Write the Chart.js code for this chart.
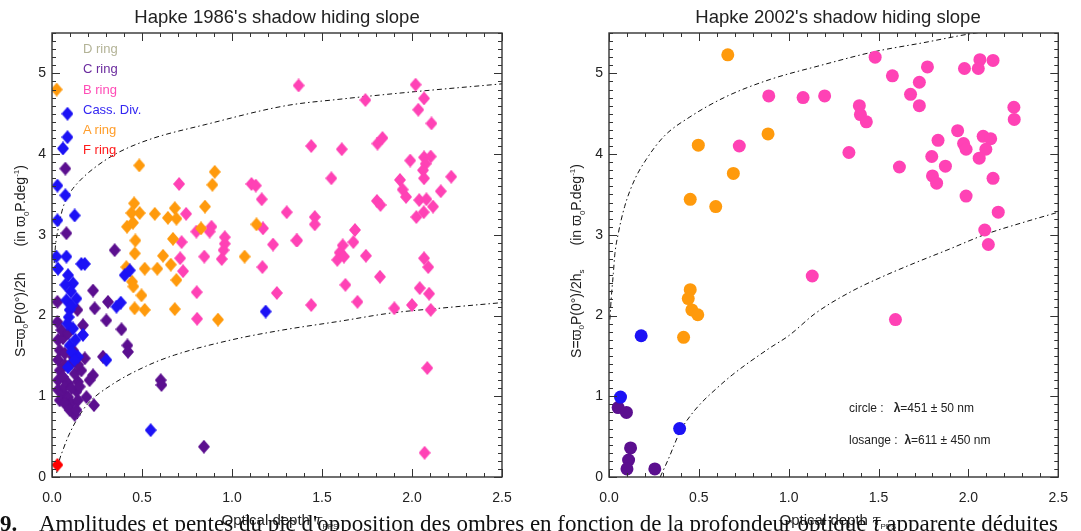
<!DOCTYPE html>
<html>
<head>
<meta charset="utf-8">
<script src="https://cdn.jsdelivr.net/npm/chart.js@4.4.1/dist/chart.umd.min.js"></script>
<style>
  body { margin: 0; width: 1081px; height: 531px; overflow: hidden; background: #fff;
         font-family: "Liberation Sans", Arial, sans-serif; color: #222; position: relative; }
  .panel { position: absolute; top: 0; }
  .title { position: absolute; top: 6px; font-size: 18.5px; white-space: nowrap; text-align: center; }
  .ytitle { position: absolute; width: 320px; height: 18px; line-height: 18px; text-align: center;
            font-size: 14px; white-space: nowrap; transform: rotate(-90deg); }
  .ytitle sub, .ytitle sup { font-size: 8px; }
  .xtitle { position: absolute; top: 511px; width: 240px; text-align: center; font-size: 15px; white-space: nowrap; }
  .xtitle i { font-family: "DejaVu Serif", serif; }
  .xtitle sub { font-size: 8px; }
  .legend { position: absolute; left: 83px; font-size: 13px; white-space: nowrap; }
  .note { position: absolute; left: 849px; font-size: 12px; white-space: nowrap; }
  .caption { position: absolute; left: 0; top: 511px; font-family: "Liberation Serif", serif;
             font-size: 23px; white-space: nowrap; color: #111; }
</style>
</head>
<body>
<div class="panel" style="left:0"><canvas id="left" width="540" height="531"></canvas></div>
<div class="panel" style="left:540px"><canvas id="right" width="541" height="531"></canvas></div>

<div class="title" style="left:127px;width:300px">Hapke 1986's shadow hiding slope</div>
<div class="title" style="left:688px;width:300px">Hapke 2002's shadow hiding slope</div>

<div class="ytitle" style="left:-143px;top:252px">S=ϖ<sub>0</sub>P(0°)/2h<span style="margin-left:26px">(in ϖ<sub>0</sub>P.deg<sup>-1</sup>)</span></div>
<div class="ytitle" style="left:413px;top:252px">S=ϖ<sub>0</sub>P(0°)/2h<sub>s</sub><span style="margin-left:24px">(in ϖ<sub>0</sub>P.deg<sup>-1</sup>)</span></div>

<div class="xtitle" style="left:160px">Optical depth <i>τ</i><sub>PPS</sub></div>
<div class="xtitle" style="left:718px">Optical depth <i>τ</i><sub>PPS</sub></div>

<div class="legend" style="top:41px;color:#b3b396">D ring</div>
<div class="legend" style="top:61px;color:#6a2a9e">C ring</div>
<div class="legend" style="top:82px;color:#ff4cb6">B ring</div>
<div class="legend" style="top:102px;color:#3326f2">Cass. Div.</div>
<div class="legend" style="top:122px;color:#ff9d2a">A ring</div>
<div class="legend" style="top:142px;color:#ff1a1a">F ring</div>

<div class="note" style="top:401px">circle :&nbsp;&nbsp; <b>λ</b>=451 ± 50 nm</div>
<div class="note" style="top:433px">losange :&nbsp; <b>λ</b>=611 ± 450 nm</div>

<div class="caption"><b>9.</b>&nbsp;&nbsp;&nbsp; Amplitudes et pentes du pic d'opposition des ombres en fonction de la profondeur optique <i>τ</i> apparente déduites</div>

<script>
// ===== colours =====
const purple = '#5b0f8f';
const pink = '#ff42b5';
const blue = '#1c12f5';
const orange = '#ff9a0c';
const red = '#ff0000';

// ===== Hapke 1986 (diamonds) : [tau, S] =====
let c1986 = [[0.074,3.82],[0.080,3.02],[0.348,2.81],[0.030,2.17],[0.030,1.92],[0.228,2.31],[0.237,2.09],
  [0.311,2.17],[0.302,1.94],[0.141,2.07],[0.172,1.88],[0.386,1.83],[0.419,1.63],[0.422,1.55],[0.283,1.49],
  [0.228,1.26],[0.209,1.20],[0.604,1.20],[0.608,1.14],[0.191,0.99],[0.233,0.89],[0.126,0.77],[0.844,0.375],
  [0.034,1.70],[0.061,1.72],[0.043,1.57],[0.071,1.53],[0.034,1.45],[0.071,1.39],[0.043,1.32],[0.034,1.20],
  [0.061,1.24],[0.089,1.16],[0.034,1.08],[0.061,1.04],[0.043,0.95],[0.089,0.99],[0.108,0.91],[0.136,1.06],
  [0.144,1.18],[0.126,1.28],[0.163,1.32],[0.182,1.47],[0.117,1.57],[0.117,1.49],[0.071,0.91],[0.098,0.83],
  [0.144,0.95],[0.136,0.83],[0.071,1.12],[0.108,1.10],[0.154,1.12],[0.108,1.41],[0.144,1.39],[0.052,1.82],
  [0.089,1.78]];
let b1986 = [[0.706,3.63],[0.745,3.26],[0.802,3.04],[0.886,3.10],[0.876,3.04],[0.96,2.97],[0.96,2.89],
  [0.953,2.81],[0.943,2.70],[0.846,2.73],[0.72,2.91],[0.712,2.71],[0.728,2.55],[1.108,3.63],[1.132,3.61],
  [1.165,3.44],[1.172,3.08],[1.228,2.88],[1.169,2.60],[1.304,3.28],[1.358,2.93],[0.804,2.29],[1.249,2.28],
  [0.806,1.96],[1.370,4.85],[1.741,4.67],[2.02,4.86],[2.067,4.69],[2.035,4.55],[2.108,4.38],[1.44,4.10],
  [1.61,4.06],[1.808,4.13],[1.836,4.20],[1.99,3.92],[2.067,3.96],[2.104,3.97],[2.076,3.88],[2.061,3.80],
  [2.067,3.70],[2.218,3.72],[1.552,3.70],[1.933,3.68],[1.948,3.56],[1.967,3.47],[2.160,3.54],[1.805,3.42],
  [1.825,3.37],[2.04,3.43],[2.08,3.44],[2.117,3.35],[2.065,3.28],[2.024,3.22],[1.46,3.22],[1.46,3.13],
  [1.362,2.93],[1.683,3.06],[1.674,2.91],[1.615,2.87],[1.598,2.78],[1.585,2.69],[1.622,2.73],[1.744,2.74],
  [2.067,2.71],[2.09,2.60],[1.822,2.48],[1.63,2.38],[2.043,2.34],[2.095,2.27],[1.44,2.13],[1.697,2.17],
  [1.902,2.09],[2.0,2.13],[2.104,2.07],[2.085,1.35],[2.07,0.30]];
let cd1986 = [[0.086,4.50],[0.086,4.21],[0.061,4.07],[0.030,3.61],[0.074,3.49],[0.126,3.24],[0.030,3.18],
  [0.024,2.73],[0.08,2.73],[0.163,2.64],[0.182,2.64],[0.033,2.58],[0.089,2.50],[0.117,2.40],[0.074,2.38],
  [0.136,2.21],[0.08,2.19],[0.098,2.07],[0.093,1.98],[0.117,1.84],[0.172,1.76],[0.098,1.63],[0.144,1.49],
  [0.089,1.36],[0.302,1.45],[0.404,2.50],[0.432,2.56],[0.358,2.11],[0.382,2.16],[1.187,2.05],[0.548,0.58],
  [0.105,2.30],[0.11,2.12],[0.085,1.90],[0.13,1.70],[0.11,1.55],[0.125,1.45]];
let a1986 = [[0.026,4.80],[0.485,3.86],[0.904,3.78],[0.891,3.62],[0.850,3.35],[0.456,3.39],[0.441,3.27],
  [0.487,3.27],[0.417,3.10],[0.45,3.15],[0.571,3.26],[0.644,3.21],[0.682,3.33],[0.691,3.20],[0.828,3.08],
  [1.136,3.13],[0.463,2.93],[0.672,2.95],[0.46,2.77],[0.617,2.74],[1.07,2.73],[0.413,2.60],[0.515,2.58],
  [0.585,2.58],[0.66,2.63],[0.691,2.44],[0.445,2.42],[0.452,2.36],[0.497,2.25],[0.459,2.09],[0.515,2.07],
  [0.682,2.08],[0.922,1.95]];
let f1986 = [[0.030,0.15]];

// dash-dot envelopes
let upper1986 = [[0.012,2.65],[0.02,2.88],[0.035,3.08],[0.06,3.33],[0.1,3.52],[0.15,3.66],[0.23,3.82],
  [0.36,4.01],[0.54,4.18],[0.86,4.37],[1.3,4.6],[1.6,4.68],[2.0,4.77],[2.5,4.87]];
let lower1986 = [[0.026,0.05],[0.04,0.2],[0.06,0.33],[0.09,0.5],[0.135,0.70],[0.2,0.91],[0.33,1.14],
  [0.52,1.37],[0.68,1.51],[1.0,1.70],[1.28,1.82],[1.6,1.93],[1.88,2.03],[2.2,2.10],[2.5,2.16]];

// ===== Hapke 2002 (circles) =====
let c2002 = [[0.051,0.86],[0.097,0.80],[0.120,0.36],[0.109,0.21],[0.100,0.10],[0.255,0.10]];
let b2002 = [[0.889,4.72],[0.725,4.10],[1.080,4.70],[1.200,4.72],[1.131,2.49],[1.481,5.20],[1.577,4.97],
  [1.772,5.08],[1.727,4.89],[1.678,4.74],[1.727,4.60],[1.393,4.60],[1.399,4.49],[1.432,4.40],[1.335,4.02],
  [1.616,3.84],[1.978,5.06],[2.064,5.17],[2.055,5.06],[2.137,5.16],[2.253,4.58],[2.255,4.43],[1.940,4.29],
  [1.973,4.13],[1.987,4.06],[1.831,4.17],[1.796,3.97],[1.872,3.85],[1.800,3.73],[1.823,3.64],[1.987,3.48],
  [2.082,4.22],[2.124,4.19],[2.097,4.06],[2.060,3.95],[2.137,3.70],[2.166,3.28],[2.091,3.06],[2.111,2.88],
  [1.594,1.95]];
let cd2002 = [[0.179,1.75],[0.064,0.99],[0.393,0.60]];
let a2002 = [[0.661,5.23],[0.497,4.11],[0.885,4.25],[0.692,3.76],[0.452,3.44],[0.594,3.35],[0.452,2.32],
  [0.441,2.21],[0.461,2.07],[0.494,2.01],[0.415,1.73]];

let upper2002 = [[0.005,1.95],[0.012,2.2],[0.024,2.52],[0.033,2.77],[0.051,3.01],[0.087,3.35],[0.142,3.68],
  [0.206,3.93],[0.306,4.22],[0.45,4.46],[0.65,4.71],[0.89,4.92],[1.18,5.10],[1.48,5.27],[1.75,5.38],
  [2.01,5.49],[2.1,5.52]];
let lower2002 = [[0.285,0.0],[0.33,0.22],[0.397,0.57],[0.45,0.75],[0.506,0.90],[0.6,1.1],[0.689,1.27],
  [0.889,1.59],[1.0,1.75],[1.15,2.03],[1.35,2.3],[1.52,2.48],[1.7,2.65],[1.88,2.81],[2.1,3.01],
  [2.3,3.15],[2.5,3.28]];

// ===== helpers =====
function toXY(arr) {
  return arr.map(p => ({ x: p[0], y: p[1] }));
}

function diamond(color) {
  let c = document.createElement('canvas');
  c.width = 12; c.height = 14;
  let g = c.getContext('2d');
  g.fillStyle = color;
  g.beginPath();
  g.moveTo(6, 0); g.lineTo(12, 7); g.lineTo(6, 14); g.lineTo(0, 7);
  g.closePath();
  g.fill();
  return c;
}

function points(arr, color, style, order) {
  return {
    data: toXY(arr),
    pointStyle: style === 'diamond' ? diamond(color) : 'circle',
    pointRadius: style === 'diamond' ? 7 : 6.5,
    pointBorderWidth: 0,
    backgroundColor: color,
    showLine: false,
    order: order
  };
}

function curve(arr) {
  return {
    data: toXY(arr),
    showLine: true,
    pointRadius: 0,
    borderColor: '#111',
    borderWidth: 1,
    borderDash: [5, 3, 1.5, 3],
    cubicInterpolationMode: 'monotone',
    fill: false,
    order: 10
  };
}

// box with inward ticks, IDL style
const framePlugin = {
  id: 'frame',
  afterDatasetsDraw(chart) {
    const { ctx, chartArea: a, scales } = chart;
    const x = scales.x, y = scales.y;
    ctx.save();
    ctx.strokeStyle = '#333';
    ctx.lineWidth = 1.4;
    ctx.strokeRect(a.left, a.top, a.right - a.left, a.bottom - a.top);
    ctx.lineWidth = 1;
    ctx.beginPath();
    for (let i = 0; i <= 25; i++) {
      const px = Math.round(x.getPixelForValue(i / 10)) + 0.5;
      const len = i % 5 === 0 ? 8 : 4;
      ctx.moveTo(px, a.bottom); ctx.lineTo(px, a.bottom - len);
      ctx.moveTo(px, a.top); ctx.lineTo(px, a.top + len);
    }
    for (let i = 0; i <= 55; i++) {
      const py = Math.round(y.getPixelForValue(i / 10)) + 0.5;
      const len = i % 10 === 0 ? 8 : 4;
      ctx.moveTo(a.left, py); ctx.lineTo(a.left + len, py);
      ctx.moveTo(a.right, py); ctx.lineTo(a.right - len, py);
    }
    ctx.stroke();
    ctx.restore();
  }
};

function makeChart(id, datasets, yWidth, padRight) {
  return new Chart(document.getElementById(id), {
    type: 'scatter',
    data: { datasets: datasets },
    options: {
      responsive: false,
      animation: false,
      layout: { padding: { top: 33, right: padRight, left: 0, bottom: 0 } },
      plugins: { legend: { display: false }, tooltip: { enabled: false } },
      scales: {
        x: {
          type: 'linear', min: 0, max: 2.5,
          grid: { display: false, drawTicks: false },
          border: { display: false },
          ticks: { stepSize: 0.5, padding: 13, color: '#222',
                   font: { family: 'Liberation Sans', size: 14 },
                   callback: v => v.toFixed(1) },
          afterFit: s => { s.height = 54; }
        },
        y: {
          type: 'linear', min: 0, max: 5.5,
          grid: { display: false, drawTicks: false },
          border: { display: false },
          ticks: { stepSize: 1, includeBounds: false, padding: 6, color: '#222',
                   font: { family: 'Liberation Sans', size: 14 } },
          afterFit: s => { s.width = yWidth; }
        }
      }
    },
    plugins: [framePlugin]
  });
}

makeChart('left', [
  points(f1986, red, 'diamond', 0),
  points(cd1986, blue, 'diamond', 1),
  points(a1986, orange, 'diamond', 2),
  points(b1986, pink, 'diamond', 3),
  points(c1986, purple, 'diamond', 4),
  curve(upper1986),
  curve(lower1986)
], 52, 38);

makeChart('right', [
  points(cd2002, blue, 'circle', 1),
  points(a2002, orange, 'circle', 2),
  points(b2002, pink, 'circle', 3),
  points(c2002, purple, 'circle', 4),
  curve(upper2002),
  curve(lower2002)
], 69, 14);
</script>
</body>
</html>
